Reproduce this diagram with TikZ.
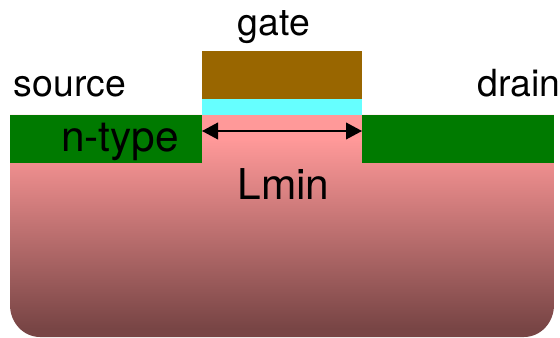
\documentclass[tikz,border=0pt]{standalone}
\usepackage{fontspec}
\setmainfont{TeX Gyre Heros}
\usetikzlibrary{arrows.meta}

\definecolor{gatebrown}{HTML}{996600}
\definecolor{oxidecyan}{HTML}{66FFFF}
\definecolor{ntypegreen}{HTML}{007A00}
\definecolor{bulkpink}{HTML}{FF9999}
\definecolor{bulkdark}{HTML}{784545}
\pgfdeclareverticalshading{bulkshade}{100bp}{color(0bp)=(bulkdark); color(27bp)=(bulkdark); color(69.5bp)=(bulkpink); color(100bp)=(bulkpink)}

\tikzset{
	smalllabel/.style={anchor=base,inner sep=0pt,font=\fontsize{26.6}{30}\selectfont},
	biglabel/.style={anchor=base,inner sep=0pt,font=\fontsize{30.2}{34}\selectfont},
	channeltip/.tip={Triangle[length=0.4cm,width=0.42cm]},
}

\begin{document}
\begin{tikzpicture}
	\useasboundingbox (0,0) rectangle (14,8.425);

	% substrate
	\path[shading=bulkshade] (0.25,5.55) -- (13.85,5.55) -- (13.85,0.8) arc[start angle=0,end angle=-90,x radius=0.75,y radius=0.8] -- (1,0) arc[start angle=270,end angle=180,x radius=0.75,y radius=0.8] -- cycle;

	% source, drain
	\fill[ntypegreen] (0.25,4.35) rectangle (5.05,5.55);
	\fill[ntypegreen] (9.05,4.35) rectangle (13.85,5.55);

	% gate stack
	\fill[oxidecyan] (5.05,5.55) rectangle (9.05,5.95);
	\fill[gatebrown] (5.05,5.95) rectangle (9.05,7.15);

	\node[smalllabel] (gate) at (6.85,7.525) {gate};
	\node[smalllabel] (source) at (1.745,6) {source};
	\node[smalllabel] (drain) at (12.97,6) {drain};
	\node[biglabel] (ntype) at (3,4.625) {n-type};
	\node[biglabel] (lmin) at (7.09,3.45) {Lmin};

	\coordinate (chanl) at (5.05,5.15);
	\coordinate (chanr) at (9.05,5.15);
	\draw[line width=0.95pt,channeltip-channeltip] (chanl) -- (chanr);
\end{tikzpicture}
\end{document}
